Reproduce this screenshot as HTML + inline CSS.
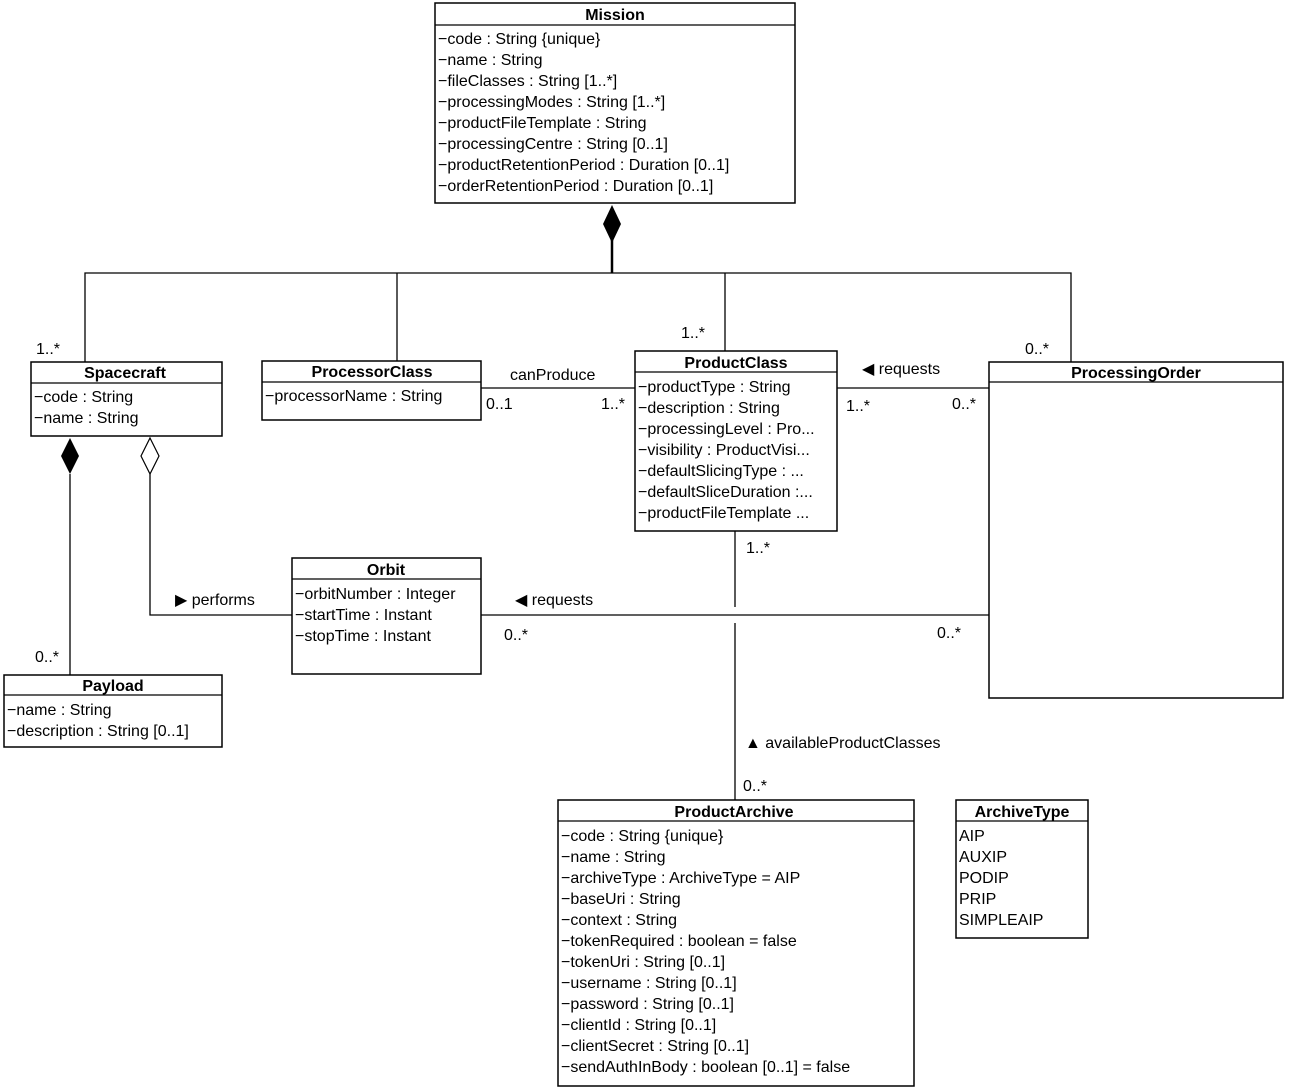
<!DOCTYPE html>
<html><head><meta charset="utf-8"><style>
html,body{margin:0;padding:0;background:#fff;}
svg{display:block}
text{font-family:"Liberation Sans",sans-serif;font-size:16px;fill:#000}
.h{font-weight:bold;text-anchor:middle}
.b{fill:#fff;stroke:#000;stroke-width:1.5}
.l{stroke:#000;stroke-width:1.3;fill:none}
</style></head><body>
<svg width="1289" height="1091" viewBox="0 0 1289 1091" xmlns="http://www.w3.org/2000/svg">
<!-- connectors -->
<polyline class="l" points="85,362 85,273 1071,273 1071,362"/>
<line class="l" x1="397" y1="273" x2="397" y2="362"/>
<line class="l" x1="725" y1="273" x2="725" y2="351"/>
<line x1="612" y1="240" x2="612" y2="273" stroke="#000" stroke-width="2.5"/>
<polygon points="612,205 621,224 612,243 603,224" fill="#000"/>
<line class="l" x1="481" y1="388" x2="635" y2="388"/>
<line class="l" x1="837" y1="388" x2="989" y2="388"/>
<line class="l" x1="70" y1="474" x2="70" y2="675"/>
<polygon points="70,438 79,456 70,474 61,456" fill="#000"/>
<polyline class="l" points="150,474 150,615 292,615"/>
<polygon points="150,438 159,456 150,474 141,456" fill="#fff" stroke="#000" stroke-width="1.2"/>
<line class="l" x1="481" y1="615" x2="989" y2="615"/>
<line class="l" x1="735" y1="531" x2="735" y2="607"/>
<line class="l" x1="735" y1="623" x2="735" y2="800"/>
<!-- connector labels -->
<text x="36" y="354">1..*</text>
<text x="681" y="338">1..*</text>
<text x="1025" y="354">0..*</text>
<text x="510" y="380">canProduce</text>
<text x="486" y="409">0..1</text>
<text x="601" y="409">1..*</text>
<text x="862" y="374">◀ requests</text>
<text x="846" y="411">1..*</text>
<text x="952" y="409">0..*</text>
<text x="175" y="605">▶ performs</text>
<text x="515" y="605">◀ requests</text>
<text x="504" y="640">0..*</text>
<text x="937" y="638">0..*</text>
<text x="746" y="553">1..*</text>
<text x="745" y="748">▲ availableProductClasses</text>
<text x="743" y="791">0..*</text>
<text x="35" y="662">0..*</text>
<!-- Mission -->
<rect class="b" x="435" y="3" width="360" height="200"/>
<line class="l" x1="435" y1="25" x2="795" y2="25"/>
<text class="h" x="615" y="20">Mission</text>
<text x="438" y="44">−code : String {unique}</text>
<text x="438" y="65">−name : String</text>
<text x="438" y="86">−fileClasses : String [1..*]</text>
<text x="438" y="107">−processingModes : String [1..*]</text>
<text x="438" y="128">−productFileTemplate : String</text>
<text x="438" y="149">−processingCentre : String [0..1]</text>
<text x="438" y="170">−productRetentionPeriod : Duration [0..1]</text>
<text x="438" y="191">−orderRetentionPeriod : Duration [0..1]</text>
<!-- Spacecraft -->
<rect class="b" x="31" y="362" width="191" height="74"/>
<line class="l" x1="31" y1="383" x2="222" y2="383"/>
<text class="h" x="125" y="378">Spacecraft</text>
<text x="34" y="402">−code : String</text>
<text x="34" y="423">−name : String</text>
<!-- ProcessorClass -->
<rect class="b" x="262" y="361" width="219" height="59"/>
<line class="l" x1="262" y1="382" x2="481" y2="382"/>
<text class="h" x="372" y="377">ProcessorClass</text>
<text x="265" y="401">−processorName : String</text>
<!-- ProductClass -->
<rect class="b" x="635" y="351" width="202" height="180"/>
<line class="l" x1="635" y1="372" x2="837" y2="372"/>
<text class="h" x="736" y="368">ProductClass</text>
<text x="638" y="392">−productType : String</text>
<text x="638" y="413">−description : String</text>
<text x="638" y="434">−processingLevel : Pro...</text>
<text x="638" y="455">−visibility : ProductVisi...</text>
<text x="638" y="476">−defaultSlicingType : ...</text>
<text x="638" y="497">−defaultSliceDuration :...</text>
<text x="638" y="518">−productFileTemplate ...</text>
<!-- ProcessingOrder -->
<rect class="b" x="989" y="362" width="294" height="336"/>
<line class="l" x1="989" y1="382" x2="1283" y2="382"/>
<text class="h" x="1136" y="378">ProcessingOrder</text>
<!-- Orbit -->
<rect class="b" x="292" y="558" width="189" height="116"/>
<line class="l" x1="292" y1="579" x2="481" y2="579"/>
<text class="h" x="386" y="575">Orbit</text>
<text x="295" y="599">−orbitNumber : Integer</text>
<text x="295" y="620">−startTime : Instant</text>
<text x="295" y="641">−stopTime : Instant</text>
<!-- Payload -->
<rect class="b" x="4" y="675" width="218" height="72"/>
<line class="l" x1="4" y1="695" x2="222" y2="695"/>
<text class="h" x="113" y="691">Payload</text>
<text x="7" y="715">−name : String</text>
<text x="7" y="736">−description : String [0..1]</text>
<!-- ProductArchive -->
<rect class="b" x="558" y="800" width="356" height="286"/>
<line class="l" x1="558" y1="821" x2="914" y2="821"/>
<text class="h" x="734" y="817">ProductArchive</text>
<text x="561" y="841">−code : String {unique}</text>
<text x="561" y="862">−name : String</text>
<text x="561" y="883">−archiveType : ArchiveType = AIP</text>
<text x="561" y="904">−baseUri : String</text>
<text x="561" y="925">−context : String</text>
<text x="561" y="946">−tokenRequired : boolean = false</text>
<text x="561" y="967">−tokenUri : String [0..1]</text>
<text x="561" y="988">−username : String [0..1]</text>
<text x="561" y="1009">−password : String [0..1]</text>
<text x="561" y="1030">−clientId : String [0..1]</text>
<text x="561" y="1051">−clientSecret : String [0..1]</text>
<text x="561" y="1072">−sendAuthInBody : boolean [0..1] = false</text>
<!-- ArchiveType -->
<rect class="b" x="956" y="800" width="132" height="138"/>
<line class="l" x1="956" y1="821" x2="1088" y2="821"/>
<text class="h" x="1022" y="817">ArchiveType</text>
<text x="959" y="841">AIP</text>
<text x="959" y="862">AUXIP</text>
<text x="959" y="883">PODIP</text>
<text x="959" y="904">PRIP</text>
<text x="959" y="925">SIMPLEAIP</text>
</svg>
</body></html>
